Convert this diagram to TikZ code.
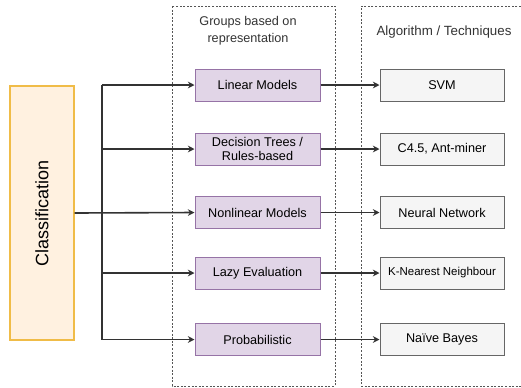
\documentclass[tikz,border=0pt]{standalone}
\usepackage{fontspec}
\setmainfont{Liberation Sans}
\usetikzlibrary{arrows.meta}

\definecolor{clsfill}{HTML}{FFF1E0}
\definecolor{clsline}{HTML}{F0BC48}
\definecolor{grpfill}{HTML}{E1D5E7}
\definecolor{grpline}{HTML}{9673A6}
\definecolor{algfill}{HTML}{F5F5F5}
\definecolor{algline}{HTML}{666666}
\definecolor{wire}{HTML}{333333}
\definecolor{frame}{HTML}{555555}

\begin{document}
\begin{tikzpicture}[x=0.75pt, y=-0.75pt,
		grp/.style={draw=grpline, fill=grpfill, line width=0.75pt, minimum width=93.75pt, minimum height=24pt, inner sep=0pt, align=center, font=\fontsize{9.5}{11}\selectfont},
		alg/.style={draw=algline, fill=algfill, line width=0.75pt, minimum width=93pt, minimum height=24pt, inner sep=0pt, align=center, font=\fontsize{9.5}{11}\selectfont},
		link/.style={draw=wire, line width=1.2pt, -{Stealth[length=5pt, width=5pt]}},
		framed/.style={draw=frame, line width=0.6pt, dash pattern=on 1.5pt off 1.2pt}]
		\useasboundingbox (0,0) rectangle (521,387);

		% Dashed frames and headings
		\draw[framed] (172,6) rectangle (335,386);
		\draw[framed] (521,6) -- (361,6) -- (361,386) -- (521,386);
		\node[align=center, font=\fontsize{9.5}{12.75}\selectfont, text=black!80] (grphead) at (248,31) {Groups based on\\representation};
		\node[font=\fontsize{10}{12}\selectfont, text=black!80] (alghead) at (444,32) {Algorithm / Techniques};

		% Classification box
		\node[draw=clsline, fill=clsfill, line width=1pt, minimum width=48pt, minimum height=190.5pt, inner sep=0pt] (cls) at (42,213) {};
		\node[rotate=90, font=\fontsize{13.5}{16}\selectfont] (clstext) at (cls) {Classification};

		% Groups
		\node[grp] (lin) at (257.5,85) {Linear Models};
		\node[grp] (tree) at (257.5,149) {Decision Trees /\\Rules-based};
		\node[grp] (nonlin) at (257.5,212.5) {Nonlinear Models};
		\node[grp] (lazy) at (257.5,273) {Lazy Evaluation};
		\node[grp] (prob) at (257.5,339.5) {Probabilistic};

		% Algorithms
		\node[alg] (svm) at (442,85) {SVM};
		\node[alg] (c45) at (442,149) {C4.5, Ant-miner};
		\node[alg] (nn) at (442,212.5) {Neural Network};
		\node[alg, font=\fontsize{8.6}{10}\selectfont] (knn) at (442,273) {K-Nearest Neighbour};
		\node[alg] (nb) at (442,339.5) {Na\"ive Bayes};

		% Bus from classification
		\coordinate (bus) at (102,213);
		\draw[draw=wire, line width=1.6pt] (bus |- lin.west) -- (bus |- prob.west);
		\draw[link] (cls.east) -- (nonlin.west);
		\foreach \g in {lin, tree, lazy, prob}
			\draw[link] (bus |- \g.west) -- (\g.west);

		% Groups to algorithms
		\draw[link] (lin) -- (svm);
		\draw[link] (tree) -- (c45);
		\draw[link] (nonlin) -- (nn);
		\draw[link] (lazy) -- (knn);
		\draw[link] (prob) -- (nb);
	\end{tikzpicture}
\end{document}
